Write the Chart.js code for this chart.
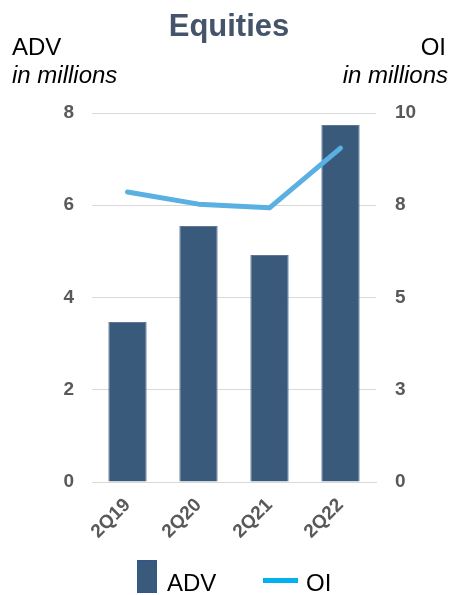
<!DOCTYPE html>
<html>
<head>
<meta charset="utf-8">
<script src="https://cdn.jsdelivr.net/npm/chart.js@4"></script>
<style>
  html, body { margin: 0; padding: 0; background: #fff; }
  body { width: 449px; height: 595px; position: relative; overflow: hidden; font-family: "Liberation Sans", Arial, sans-serif; }
  #wrap { position: absolute; left: 0; top: 0; width: 449px; height: 595px; }
  .txt { position: absolute; white-space: nowrap; color: #000; font-size: 24px; line-height: 28px; }
  .it { font-style: italic; }
  #title { left: 0; width: 458px; top: 8px; text-align: center; font-size: 31px; line-height: 36px; font-weight: bold; color: #44546a; }
  .legend-box { position: absolute; left: 137px; top: 560px; width: 20px; height: 33px; background: #3a5a7c; border: 1px solid #2f5597; box-sizing: border-box; }
  .legend-line { position: absolute; left: 263px; top: 578px; width: 35px; height: 5px; background: #00b0f0; }
</style>
</head>
<body>
<div id="wrap"><canvas id="chart" width="449" height="595"></canvas></div>
<div id="title" class="txt">Equities</div>
<div class="txt" style="left:12px; top:33px;">ADV</div>
<div class="txt it" style="left:12px; top:61px;">in millions</div>
<div class="txt" style="right:3px; top:33px;">OI</div>
<div class="txt it" style="right:1px; top:61px;">in millions</div>
<div class="legend-box"></div>
<div class="txt" style="left:167px; top:569px;">ADV</div>
<div class="legend-line"></div>
<div class="txt" style="left:306px; top:569px;">OI</div>
<script>
// categories and series
const quarters = ['2Q19', '2Q20', '2Q21', '2Q22']
const advValues = [3.47, 5.55, 4.92, 7.74]
const oiValues = [7.86, 7.53, 7.43, 9.05]
const advTicks = [0, 2, 4, 6, 8]
const oiTicks = [0, 2.5, 5, 7.5, 10]

const tickGray = '#595959'

const ctx = document.getElementById('chart')

new Chart(ctx, {
  data: {
    labels: quarters,
    datasets: [{
      type: 'line',
      label: 'OI',
      data: oiValues,
      yAxisID: 'y1',
      borderColor: '#5aafe3',
      borderWidth: 5,
      pointRadius: 0,
      tension: 0,
      borderJoinStyle: 'round',
      borderCapStyle: 'round',
      order: 0
    }, {
      type: 'bar',
      label: 'ADV',
      data: advValues,
      yAxisID: 'y',
      backgroundColor: '#3a5a7c',
      borderColor: '#5d7896',
      borderWidth: 1,
      categoryPercentage: 1,
      barPercentage: 0.54,
      order: 1
    }]
  },
  options: {
    responsive: false,
    animation: false,
    layout: {
      padding: { top: 113, bottom: 0, left: 0, right: 0 }
    },
    plugins: {
      legend: { display: false },
      tooltip: { enabled: false }
    },
    scales: {
      x: {
        grid: { display: false, drawTicks: false },
        border: { color: '#d9d9d9', width: 1 },
        ticks: {
          color: tickGray,
          font: { family: 'Liberation Sans', size: 19, weight: 'bold' },
          minRotation: 45,
          maxRotation: 45,
          padding: 12
        },
        afterFit: scale => { scale.height = 113 }
      },
      y: {
        position: 'left',
        min: advTicks[0],
        max: advTicks[advTicks.length - 1],
        afterBuildTicks: scale => { scale.ticks = advTicks.map(v => ({ value: v })) },
        grid: { color: '#d9d9d9', drawTicks: false },
        border: { display: false },
        ticks: {
          color: tickGray,
          font: { family: 'Liberation Sans', size: 19, weight: 'bold' },
          padding: 18
        },
        afterFit: scale => { scale.width = 92 }
      },
      y1: {
        position: 'right',
        min: oiTicks[0],
        max: oiTicks[oiTicks.length - 1],
        afterBuildTicks: scale => { scale.ticks = oiTicks.map(v => ({ value: v })) },
        grid: { display: false, drawTicks: false },
        border: { display: false },
        ticks: {
          color: tickGray,
          font: { family: 'Liberation Sans', size: 19, weight: 'bold' },
          padding: 19,
          callback: v => Math.round(v)
        },
        afterFit: scale => { scale.width = 73 }
      }
    }
  }
})
</script>
</body>
</html>
